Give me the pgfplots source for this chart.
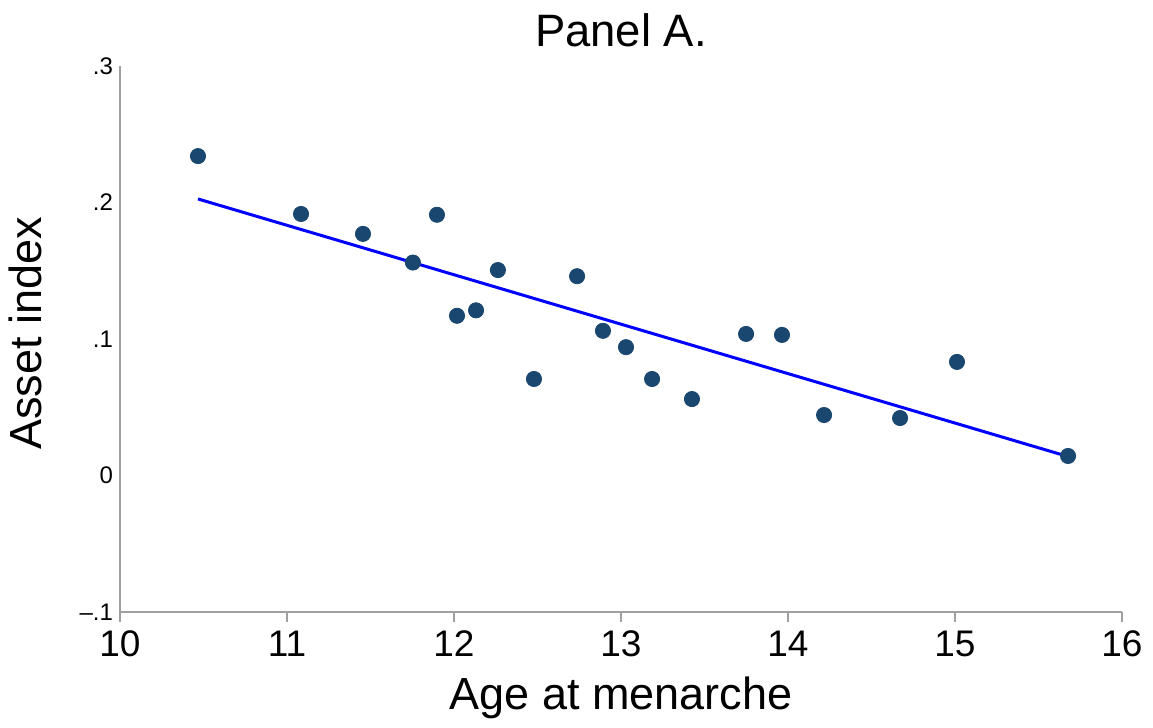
\documentclass[border=0pt]{standalone}
\usepackage{pgfplots}
\pgfplotsset{compat=1.18}
\usepackage{fontspec}
\setmainfont{Liberation Sans}

\definecolor{navy}{RGB}{26,71,111}
\definecolor{axgray}{RGB}{160,160,160}

\begin{document}
\begin{tikzpicture}
	\path[use as bounding box] (-60pt,-58pt) rectangle (516.5pt,306pt);
	\begin{axis}[
			at={(0,0)}, anchor=south west,
			scale only axis,
			width=501pt, height=273pt,
			xmin=10, xmax=16, ymin=-0.1, ymax=0.3,
			axis x line*=bottom, axis y line*=left,
			axis line style={axgray, line width=1.2pt},
			xtick={10,11,...,16},
			ytick={-0.1,0,0.1,0.2,0.3},
			yticklabels={–.1,0,.1,.2,.3},
			x tick style={axgray, line width=1.2pt},
			xtick align=outside,
			major tick length=5pt,
			y tick style={draw=none},
			/pgf/number format/assume math mode=true,
			x tick label style={font=\fontsize{18.5}{20}\selectfont, yshift=-1pt},
			y tick label style={font=\fontsize{12}{14}\selectfont},
			title={Panel A.},
			title style={font=\fontsize{22.7}{26}\selectfont, at={(0.5,1)}, anchor=base, yshift=3.5pt},
			xlabel={Age at menarche},
			xlabel style={font=\fontsize{22.5}{26}\selectfont, at={(axis description cs:0.5,0)}, anchor=base, yshift=-49pt},
			ylabel={Asset index},
			ylabel style={font=\fontsize{22.5}{26}\selectfont, at={(axis description cs:-0.078,0.51)}, anchor=base},
			clip=false,
		]
		\addplot[only marks, mark=*, mark size=3.8pt, color=navy] coordinates {
			(10.467,0.234) (11.084,0.1916) (11.455,0.177) (11.754,0.156)
			(11.898,0.191) (12.018,0.117) (12.132,0.121) (12.263,0.1505)
			(12.479,0.0707) (12.737,0.146) (12.892,0.106) (13.030,0.094)
			(13.186,0.0707) (13.425,0.056) (13.749,0.1037) (13.964,0.103)
			(14.216,0.0443) (14.671,0.0421) (15.012,0.0832) (15.677,0.0143)
		};
		\addplot[blue, line width=1.5pt, no marks] coordinates {
			(10.467,0.2026) (15.677,0.0139)
		};
	\end{axis}
\end{tikzpicture}
\end{document}
